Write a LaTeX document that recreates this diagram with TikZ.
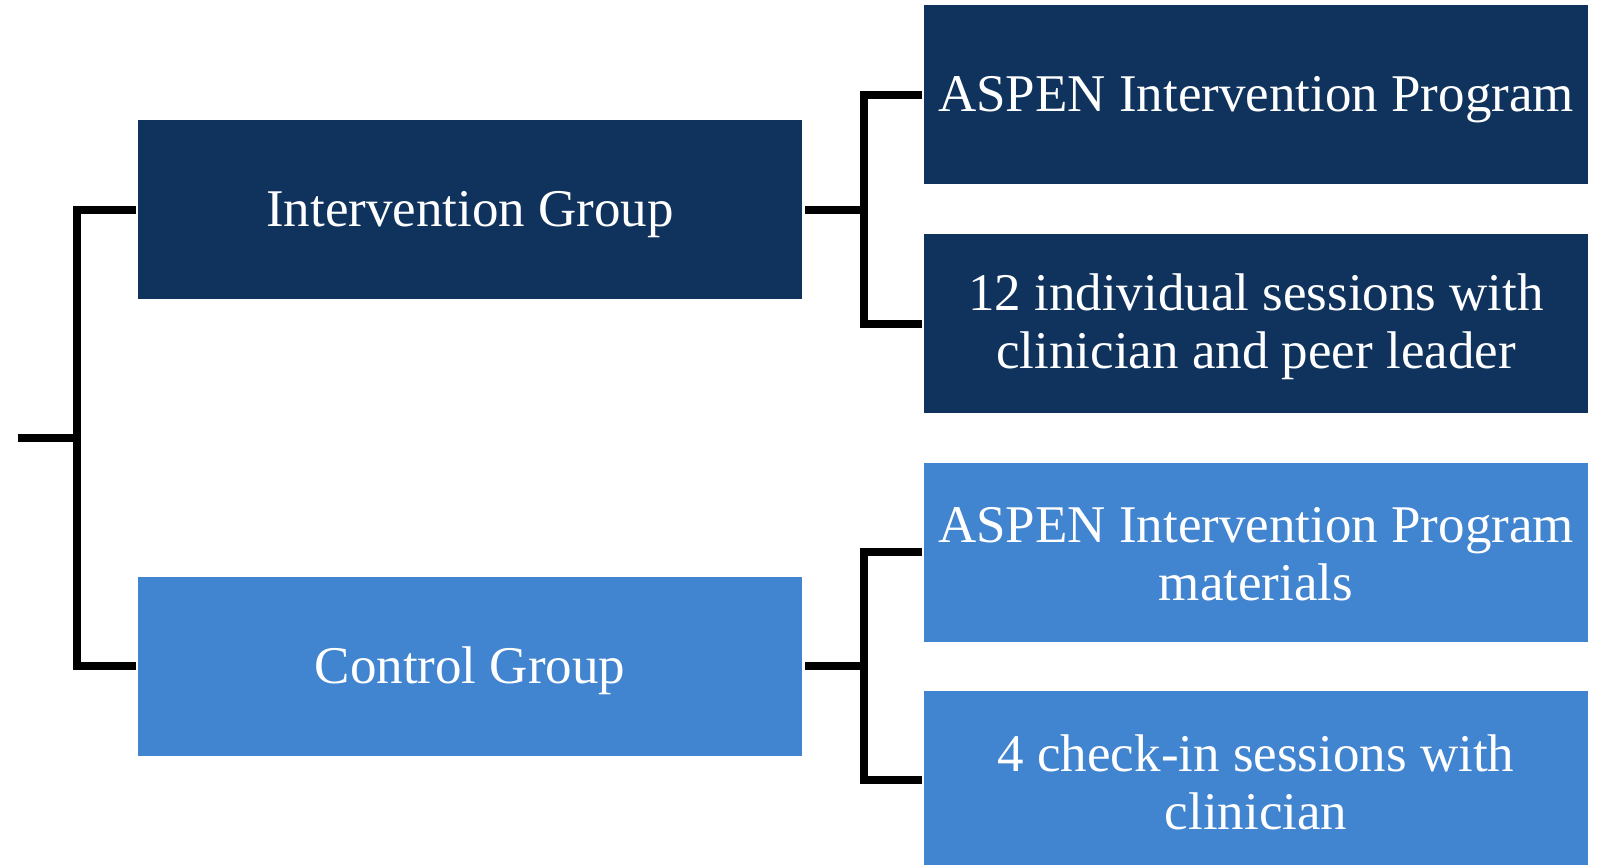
\documentclass[tikz,border=0pt]{standalone}
\usepackage{fontspec}
\setmainfont{Liberation Serif}
\usepackage{xcolor}
\usepackage{tikz}
\newcommand{\lowtext}[2][2.5pt]{\raisebox{-#1}[\height][\depth]{#2}}

\begin{document}
\begin{tikzpicture}[x=0.5pt,y=-0.5pt,
  grpBox/.style={draw=none, inner sep=0pt, minimum width=332pt, minimum height=89.5pt, align=center, text=white, font=\fontsize{26.5}{29}\selectfont},
  tieLine/.style={line width=4pt, color=black}]
\useasboundingbox (0,0) rectangle (1604,865);
\definecolor{darkBox}{RGB}{16,51,94}
\definecolor{lightBox}{RGB}{65,132,207}
\node[grpBox, fill=darkBox] (ig) at (470,210) {\lowtext{Intervention Group}};
\node[grpBox, fill=lightBox] (cg) at (470,666) {\lowtext{Control Group}};
\node[grpBox, fill=darkBox] (ig1) at (1256,95) {\lowtext{ASPEN Intervention Program}};
\node[grpBox, fill=darkBox] (ig2) at (1256,324) {\lowtext[1.5pt]{12 individual sessions with}\\\lowtext[1.5pt]{clinician and peer leader}};
\node[grpBox, fill=lightBox] (cg1) at (1256,552) {\lowtext[1pt]{ASPEN Intervention Program}\\\lowtext[1pt]{materials}};
\node[grpBox, fill=lightBox] (cg2) at (1256,780) {\lowtext[1pt]{4 check-in sessions with}\\\lowtext[1pt]{clinician}};
\coordinate (root) at (18,438);
\draw[tieLine] (root) -- ++(59,0) coordinate (rootj) |- ([xshift=-1pt]ig.west);
\draw[tieLine] (rootj) |- ([xshift=-1pt]cg.west);
\draw[tieLine] ([xshift=1.5pt]ig.east) -- ++(59,0) coordinate (igj) |- ([xshift=-1pt]ig1.west);
\draw[tieLine] (igj) |- ([xshift=-1pt]ig2.west);
\draw[tieLine] ([xshift=1.5pt]cg.east) -- ++(59,0) coordinate (cgj) |- ([xshift=-1pt]cg1.west);
\draw[tieLine] (cgj) |- ([xshift=-1pt]cg2.west);
\end{tikzpicture}
\end{document}
